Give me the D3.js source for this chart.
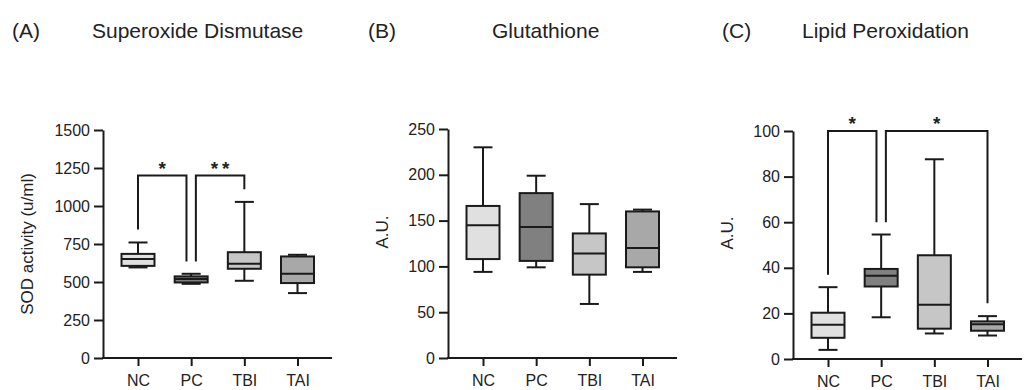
<!DOCTYPE html>
<html><head><meta charset="utf-8">
<script src="https://cdn.jsdelivr.net/npm/d3@7"></script>
<style>
body{margin:0;background:#fff;}
svg{display:block;font-family:"Liberation Sans",Arial,sans-serif;}
</style></head>
<body><svg id="c" width="1029" height="390"></svg>
<script>
// ---- data ----
const categories = ["NC", "PC", "TBI", "TAI"];
const boxColors = ["#e0e0e0", "#808080", "#c6c6c6", "#a8a8a8"];
// five-number summaries [min, q1, median, q3, max]
const sodBoxes = [[596, 606, 652, 685, 760], [488, 497, 519, 537, 554], [508, 587, 620, 696, 1027], [427, 493, 554, 668, 679]];
const gshBoxes = [[94, 108, 145, 166, 230], [99, 106, 143, 180, 199], [59, 91, 114, 136, 168], [94, 99, 120, 160, 162]];
const lpoBoxes = [[4, 9.3, 15, 20.3, 31.5], [18.3, 31.8, 36.5, 39.5, 54.6], [11.2, 13.3, 23.8, 45.5, 87.6], [10.3, 12.4, 15.2, 16.5, 18.8]];
const sodTicks = [0, 250, 500, 750, 1000, 1250, 1500];
const gshTicks = [0, 50, 100, 150, 200, 250];
const lpoTicks = [0, 20, 40, 60, 80, 100];
// significance brackets: groups, bracket level, leg ends, label
const sodSig = [
  {a: "NC", b: "PC", top: 1200, endA: 845, endB: 635, label: "*"},
  {a: "PC", b: "TBI", top: 1200, endA: 635, endB: 1110, label: "**"}
];
const gshSig = [];
const lpoSig = [
  {a: "NC", b: "PC", top: 100, endA: 37, endB: 60, label: "*"},
  {a: "PC", b: "TAI", top: 100, endA: 60, endB: 24.5, label: "*"}
];

const svg = d3.select("#c");
const FONT = "Liberation Sans, Arial, sans-serif";

function panel(o) {
  const g = svg.append("g");
  const y = d3.scaleLinear().domain([0, o.max]).range([o.bottom, o.top]);
  const x = d3.scalePoint().domain(categories).range([o.x0 + 35, o.x0 + 194.5]);
  const bw = 33, cap = 19;
  const stroke = "#1a1a1a";

  // title
  g.append("text").attr("x", o.lx).attr("y", 38).attr("font-size", 21).attr("fill", "#222").text(o.letter);
  g.append("text").attr("x", o.tx).attr("y", 38).attr("font-size", 21).attr("fill", "#222").text(o.title);

  // y axis
  const ya = g.append("g").attr("transform", `translate(${o.x0},0)`)
    .call(d3.axisLeft(y).tickValues(o.ticks).tickFormat(d3.format("d")).tickSize(9).tickPadding(4).tickSizeOuter(0));
  ya.select(".domain").attr("stroke", stroke).attr("stroke-width", 2);
  ya.selectAll(".tick line").attr("stroke", stroke).attr("stroke-width", 2);
  ya.selectAll(".tick text").attr("font-size", 16).attr("fill", "#222").attr("font-family", FONT);

  // x axis
  const xa = g.append("g").attr("transform", `translate(0,${o.bottom})`)
    .call(d3.axisBottom(x).tickSize(8).tickPadding(9).tickSizeOuter(0));
  xa.select(".domain").remove();
  xa.selectAll(".tick line").attr("stroke", stroke).attr("stroke-width", 2);
  xa.selectAll(".tick text").attr("font-size", 16).attr("fill", "#222").attr("font-family", FONT);
  g.append("line").attr("x1", o.x0 - 1).attr("x2", o.x0 + 229).attr("y1", o.bottom).attr("y2", o.bottom)
    .attr("stroke", stroke).attr("stroke-width", 2);

  // y label
  g.append("text").attr("transform", `translate(${o.ylx},${o.yly}) rotate(-90)`)
    .attr("text-anchor", "middle").attr("font-size", o.ylfs).attr("fill", "#222").text(o.ylabel);

  // boxes
  const bx = g.selectAll(".bx").data(o.data).enter().append("g");
  bx.each(function(d, i) {
    const s = d3.select(this), cx = x(categories[i]);
    const ln = (x1, x2, y1, y2) => s.append("line").attr("x1", x1).attr("x2", x2).attr("y1", y1).attr("y2", y2)
      .attr("stroke", stroke).attr("stroke-width", 2);
    ln(cx, cx, y(d[0]), y(d[1]));
    ln(cx, cx, y(d[3]), y(d[4]));
    ln(cx - cap / 2, cx + cap / 2, y(d[0]), y(d[0]));
    ln(cx - cap / 2, cx + cap / 2, y(d[4]), y(d[4]));
    s.append("rect").attr("x", cx - bw / 2).attr("width", bw).attr("y", y(d[3])).attr("height", y(d[1]) - y(d[3]))
      .attr("fill", boxColors[i]).attr("stroke", stroke).attr("stroke-width", 2);
    ln(cx - bw / 2, cx + bw / 2, y(d[2]), y(d[2]));
  });

  // significance brackets
  o.sig.forEach(s => {
    let xa0 = x(s.a), xb0 = x(s.b);
    if (s.a === "PC") xa0 += 4.7;
    if (s.b === "PC") xb0 -= 4.7;
    g.append("path").attr("d", `M${xa0},${y(s.endA)}V${y(s.top)}H${xb0}V${y(s.endB)}`)
      .attr("fill", "none").attr("stroke", stroke).attr("stroke-width", 2);
    g.append("text").attr("x", (xa0 + xb0) / 2 + (s.label.length > 1 ? 2 : 0)).attr("y", y(s.top) - 1).attr("text-anchor", "middle")
      .attr("font-size", 19).attr("font-weight", "bold").attr("letter-spacing", s.label.length > 1 ? 4 : 0)
      .attr("fill", "#222").text(s.label);
  });
}

panel({x0: 103, top: 130, bottom: 358, max: 1500, ticks: sodTicks, data: sodBoxes, sig: sodSig,
  letter: "(A)", lx: 12, title: "Superoxide Dismutase", tx: 92, ylabel: "SOD activity (u/ml)", ylx: 33, yly: 244, ylfs: 17});
panel({x0: 448, top: 129, bottom: 358, max: 250, ticks: gshTicks, data: gshBoxes, sig: gshSig,
  letter: "(B)", lx: 368, title: "Glutathione", tx: 492, ylabel: "A.U.", ylx: 388, yly: 232, ylfs: 17});
panel({x0: 793, top: 131, bottom: 359, max: 100, ticks: lpoTicks, data: lpoBoxes, sig: lpoSig,
  letter: "(C)", lx: 722, title: "Lipid Peroxidation", tx: 802, ylabel: "A.U.", ylx: 733, yly: 233, ylfs: 17});
</script>
</body></html>
